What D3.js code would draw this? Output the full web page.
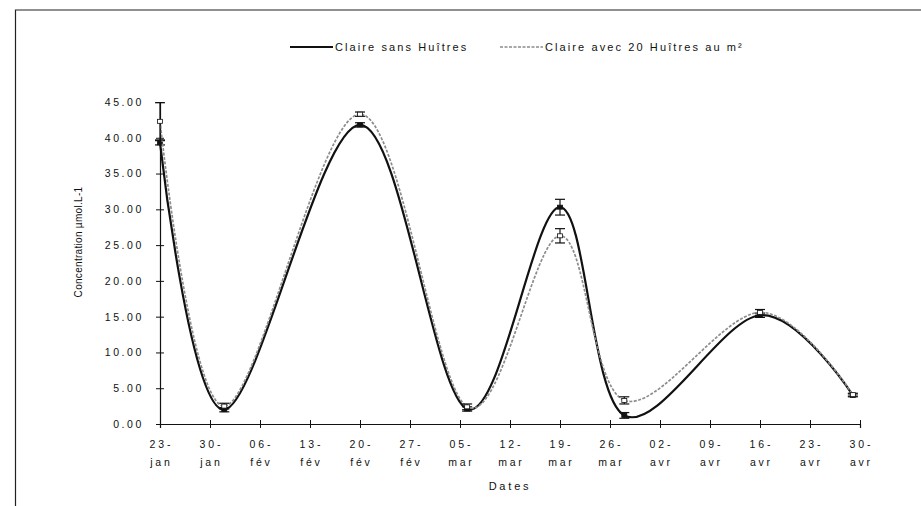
<!DOCTYPE html>
<html>
<head>
<meta charset="utf-8">
<script src="https://cdn.jsdelivr.net/npm/d3@7"></script>
<style>
  body { margin: 0; background: #fff; }
  text { font-family: "Liberation Sans", Arial, sans-serif; fill: #111; }
</style>
</head>
<body>
<div id="chart"></div>
<script>
// sample dates and concentrations (µmol/L)
var sampleDates = ["2008-01-23", "2008-02-01", "2008-02-20", "2008-03-06", "2008-03-19", "2008-03-28", "2008-04-16", "2008-04-29"];
var sansHuitres = [39.3, 2.0, 41.8, 2.1, 30.3, 1.2, 15.2, 4.0];
var avecHuitres = [42.3, 2.5, 43.3, 2.4, 26.3, 3.3, 15.6, 4.1];
var errSans = [0.3, 0.3, 0.3, 0.3, 1.1, 0.4, 0.3, 0.2];
var errAvec = [2.6, 0.4, 0.3, 0.4, 1.0, 0.5, 0.4, 0.2];

var xTickDates = ["2008-01-23", "2008-01-30", "2008-02-06", "2008-02-13", "2008-02-20", "2008-02-27", "2008-03-05",
  "2008-03-12", "2008-03-19", "2008-03-26", "2008-04-02", "2008-04-09", "2008-04-16", "2008-04-23", "2008-04-30"];
var xTickDays = ["23-", "30-", "06-", "13-", "20-", "27-", "05-", "12-", "19-", "26-", "02-", "09-", "16-", "23-", "30-"];
var xTickMonths = ["jan", "jan", "fév", "fév", "fév", "fév", "mar", "mar", "mar", "mar", "avr", "avr", "avr", "avr", "avr"];
var yTicks = [0, 5, 10, 15, 20, 25, 30, 35, 40, 45];

var seriesNames = ["Claire sans Huîtres", "Claire avec 20 Huîtres au m²"];

var parse = d3.timeParse("%Y-%m-%d");
var W = 921, H = 506;

var svg = d3.select("#chart")
  .append("svg")
  .attr("width", W)
  .attr("height", H);

// frame (only top and left edges survive in the scan)
svg.append("path")
  .attr("d", "M15.5," + H + "V10H" + W)
  .attr("fill", "none")
  .attr("stroke", "#222")
  .attr("stroke-width", 1.2);

var x = d3.scaleTime()
  .domain([parse("2008-01-23"), parse("2008-04-30")])
  .range([160, 860]);

var y = d3.scaleLinear()
  .domain([0, 45])
  .range([424, 102]);

// Y axis with crossing ticks
var yAxis = svg.append("g")
  .attr("transform", "translate(" + x.range()[0] + ",0)")
  .call(d3.axisLeft(y).tickValues(yTicks).tickSize(4).tickPadding(12).tickFormat(d3.format(".2f")));
yAxis.select(".domain").attr("stroke", "#111").attr("stroke-width", 1.2);
yAxis.selectAll(".tick line").attr("x1", 4).attr("stroke", "#111");
yAxis.selectAll(".tick text")
  .style("font-size", "10.5px")
  .style("letter-spacing", "2.6px")
  .attr("fill", "#111");

// X axis with crossing ticks and two-line labels
var xAxis = svg.append("g")
  .attr("transform", "translate(0," + y(0) + ")")
  .call(d3.axisBottom(x).tickValues(xTickDates.map(parse)).tickSize(4).tickFormat(""));
xAxis.select(".domain").attr("stroke", "#111").attr("stroke-width", 1.2);
xAxis.selectAll(".tick line").attr("y1", -4).attr("stroke", "#111");

var xLabels = svg.append("g")
  .selectAll("text")
  .data(xTickDates)
  .join("text")
  .attr("x", function (d) { return x(parse(d)) + 1.4; })
  .attr("text-anchor", "middle")
  .style("font-size", "10.5px")
  .style("letter-spacing", "2.8px");
xLabels.append("tspan")
  .attr("x", function (d) { return x(parse(d)) + 1.4; })
  .attr("y", 448)
  .text(function (d, i) { return xTickDays[i]; });
xLabels.append("tspan")
  .attr("x", function (d) { return x(parse(d)) + 1.4; })
  .attr("y", 466)
  .text(function (d, i) { return xTickMonths[i]; });

// axis titles
svg.append("text")
  .attr("x", 510)
  .attr("y", 490)
  .attr("text-anchor", "middle")
  .style("font-size", "11px")
  .style("letter-spacing", "2.8px")
  .text("Dates");

svg.append("text")
  .attr("transform", "translate(82,242) rotate(-90)")
  .attr("text-anchor", "middle")
  .style("font-size", "10px")
  .style("letter-spacing", "0.3px")
  .text("Concentration µmol.L-1");

// series
var series = [
  { name: seriesNames[0], values: sansHuitres, err: errSans, color: "#111", width: 2.2, dash: null },
  { name: seriesNames[1], values: avecHuitres, err: errAvec, color: "#8c8c8c", width: 1.7, dash: "3,1.5" }
];

var line = d3.line()
  .x(function (d) { return x(d.date); })
  .y(function (d) { return y(d.value); })
  .curve(d3.curveCardinal.tension(0));

series.forEach(function (s) {
  var pts = sampleDates.map(function (d, i) {
    return { date: parse(d), value: s.values[i], err: s.err[i] };
  });
  var g = svg.append("g");

  g.append("path")
    .datum(pts)
    .attr("d", line)
    .attr("fill", "none")
    .attr("stroke", s.color)
    .attr("stroke-width", s.width)
    .attr("stroke-dasharray", s.dash);

  // error bars
  var eb = g.selectAll(".eb")
    .data(pts)
    .join("g")
    .attr("stroke", "#111")
    .attr("stroke-width", 1.2);
  eb.append("line")
    .attr("x1", function (d) { return x(d.date); })
    .attr("x2", function (d) { return x(d.date); })
    .attr("y1", function (d) { return y(d.value - d.err); })
    .attr("y2", function (d) { return y(d.value + d.err); });
  eb.append("line")
    .attr("x1", function (d) { return x(d.date) - 5; })
    .attr("x2", function (d) { return x(d.date) + 5; })
    .attr("y1", function (d) { return y(d.value + d.err); })
    .attr("y2", function (d) { return y(d.value + d.err); });
  eb.append("line")
    .attr("x1", function (d) { return x(d.date) - 5; })
    .attr("x2", function (d) { return x(d.date) + 5; })
    .attr("y1", function (d) { return y(d.value - d.err); })
    .attr("y2", function (d) { return y(d.value - d.err); });

  // small markers
  g.selectAll(".mk")
    .data(pts)
    .join("rect")
    .attr("x", function (d) { return x(d.date) - 2.5; })
    .attr("y", function (d) { return y(d.value) - 2; })
    .attr("width", 5)
    .attr("height", 4)
    .attr("fill", s === series[0] ? "#111" : "#fff")
    .attr("stroke", "#111")
    .attr("stroke-width", 0.8);
});

// legend
var legendX = [290, 500];
var legend = svg.append("g")
  .selectAll("g")
  .data(series)
  .join("g")
  .attr("transform", function (d, i) { return "translate(" + legendX[i] + ",47)"; });
legend.append("line")
  .attr("x1", 0)
  .attr("x2", 43)
  .attr("stroke", function (d) { return d.color; })
  .attr("stroke-width", function (d) { return d.width; })
  .attr("stroke-dasharray", function (d) { return d.dash; });
legend.append("text")
  .attr("x", 45)
  .attr("y", 4)
  .style("font-size", "11px")
  .style("letter-spacing", "2.1px")
  .text(function (d) { return d.name; });
</script>
</body>
</html>
